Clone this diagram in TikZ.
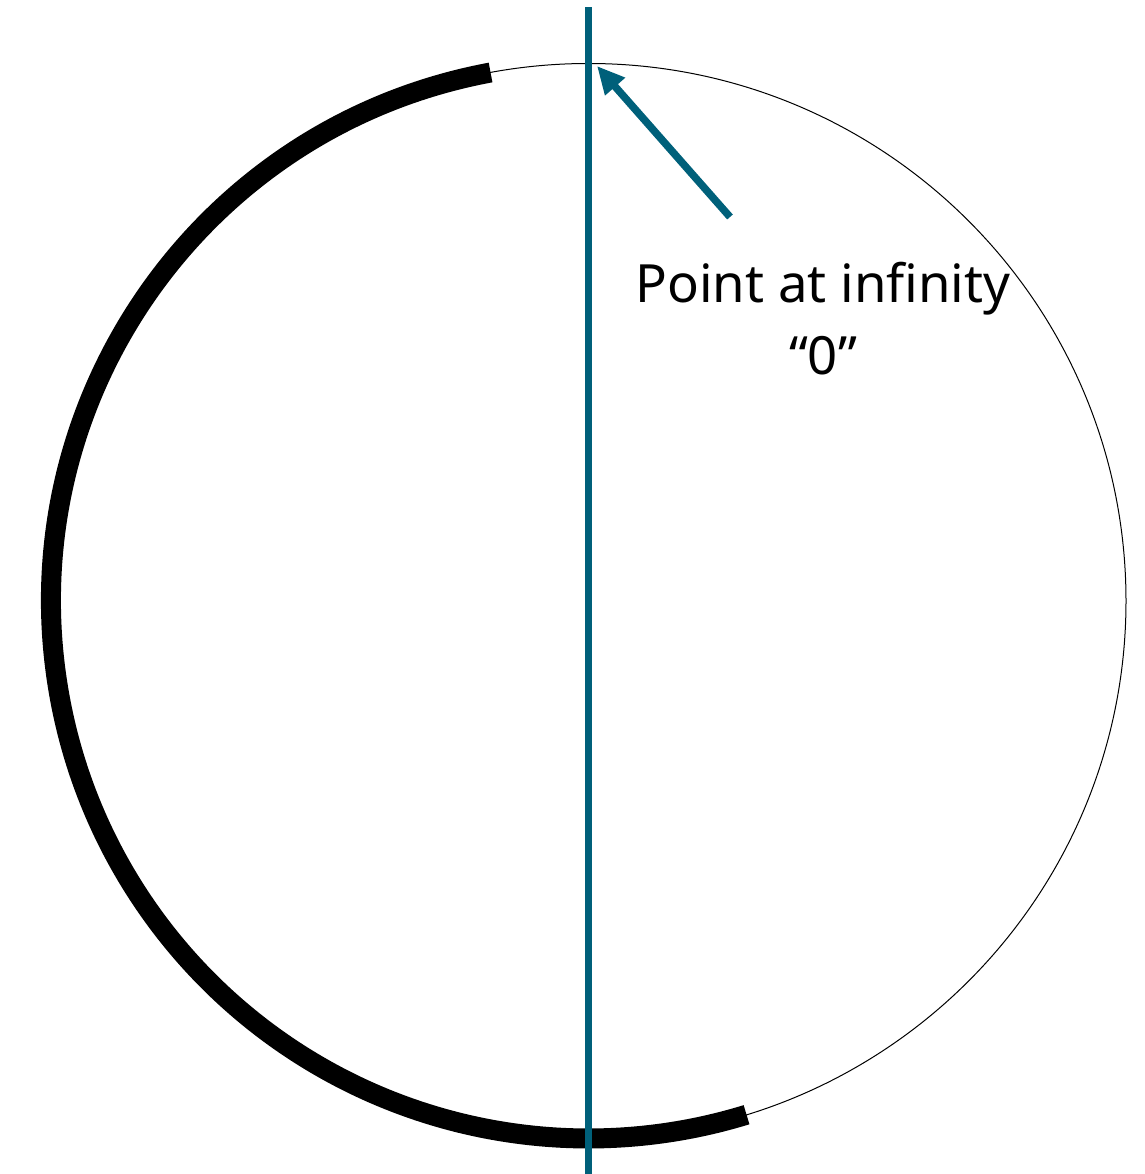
\documentclass[tikz,border=0pt]{standalone}
\usepackage{fontspec}
\setmainfont{Noto Sans}
\usetikzlibrary{arrows.meta}
\definecolor{axisteal}{RGB}{0, 96, 122}

\begin{document}
\begin{tikzpicture}[x=0.02cm, y=0.02cm]
                    \useasboundingbox (0,0) rectangle (1144,1174);
                    \coordinate (O) at (588.5,573);
                    \coordinate (inf) at (597,1108);
                    \coordinate (tail) at (730,957);
                    \coordinate (axtop) at (588,1167);
                    \coordinate (axbot) at (588,0);

                    \draw[line width=0.02cm] (O) circle (537.5);
                    \draw[line width=0.4cm] (O) ++(100.5:537.5) arc (100.5:287.1:537.5);

                    \draw[axisteal, line width=0.14cm] (axbot) -- (axtop);
                    \draw[axisteal, line width=0.15cm, -{Triangle[length=0.55cm, width=0.5cm]}] (tail) -- (inf);

                    \node[align=center, font=\fontsize{30}{41}\selectfont, anchor=base] (lbl) at (823,799) {Point at infinity\\“0”};
                \end{tikzpicture}
\end{document}
